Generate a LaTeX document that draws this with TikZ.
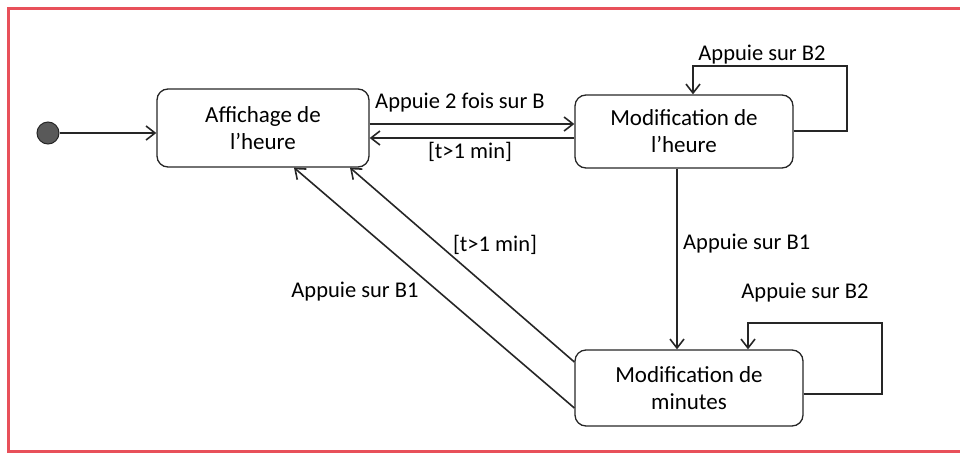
\documentclass[tikz,border=0pt]{standalone}
\usepackage{fontspec}
\setmainfont{Carlito}
\usepackage{xcolor}
\usetikzlibrary{shapes, arrows.meta, positioning}
\definecolor{cadre}{HTML}{E8505A}
\definecolor{trait}{HTML}{262626}

\begin{document}
\begin{tikzpicture}[x=1pt,y=-1pt,
        etat/.style={draw=trait, line width=1.3pt, rounded corners=11pt, inner sep=0pt,
                     align=center, font=\fontsize{23}{27}\selectfont},
        trans/.style={draw=trait, line width=1.6pt, -{Straight Barb[length=9pt,width=14pt]}},
        lbl/.style={font=\fontsize{22.5}{24}\selectfont, inner sep=0pt}]
        \useasboundingbox (0,0) rectangle (960,458);
        % Cadre
        \draw[cadre, line width=3pt] (966,8) -- (8,8) -- (8,451) -- (966,451);
        % Etats
        \node[circle, fill=black!65, draw=trait, line width=1pt, minimum size=22pt, inner sep=0pt] (init) at (48,133) {};
        \node[etat, minimum width=212pt, minimum height=78pt] (affichage) at (263,128) {Affichage de\\l’heure};
        \node[etat, minimum width=218pt, minimum height=73pt] (modifheure) at (684,131.5) {Modification de\\l’heure};
        \node[etat, minimum width=228pt, minimum height=76pt] (modifmin) at (689,388) {Modification de\\minutes};
        % Points des boucles
        \coordinate (b1a) at (847,131);
        \coordinate (b1b) at (847,66);
        \coordinate (b1c) at (693,66);
        \coordinate (b2a) at (882,394);
        \coordinate (b2b) at (882,323);
        \coordinate (b2c) at (748,323);
        % Transitions
        \draw[trans] (init) -- (affichage.west |- init);
        \draw[trans] (affichage.east |- 0,124) -- (modifheure.west |- 0,124);
        \draw[trans] (modifheure.west |- 0,138) -- (affichage.east |- 0,138);
        \draw[trans] (modifheure.south -| 677,0) -- (modifmin.north -| 677,0);
        \draw[trans] (modifheure.east |- b1a) -- (b1a) -- (b1b) -- (b1c) -- (modifheure.north -| b1c);
        \draw[trans] (modifmin.east |- b2a) -- (b2a) -- (b2b) -- (b2c) -- (modifmin.north -| b2c);
        \draw[trans] (modifmin.west |- 0,362) -- (affichage.south -| 350,0);
        \draw[trans] (modifmin.west |- 0,408) -- (affichage.south -| 294,0);
        % Etiquettes
        \node[lbl] (l1) at (460,103) {Appuie 2 fois sur B};
        \node[lbl] (l2) at (470,152) {[t>1 min]};
        \node[lbl] (l3) at (762,55) {Appuie sur B2};
        \node[lbl, anchor=west] (l4) at (683,244) {Appuie sur B1};
        \node[lbl] (l5) at (805,293) {Appuie sur B2};
        \node[lbl] (l6) at (495,245) {[t>1 min]};
        \node[lbl] (l7) at (355,292) {Appuie sur B1};
    \end{tikzpicture}
\end{document}
